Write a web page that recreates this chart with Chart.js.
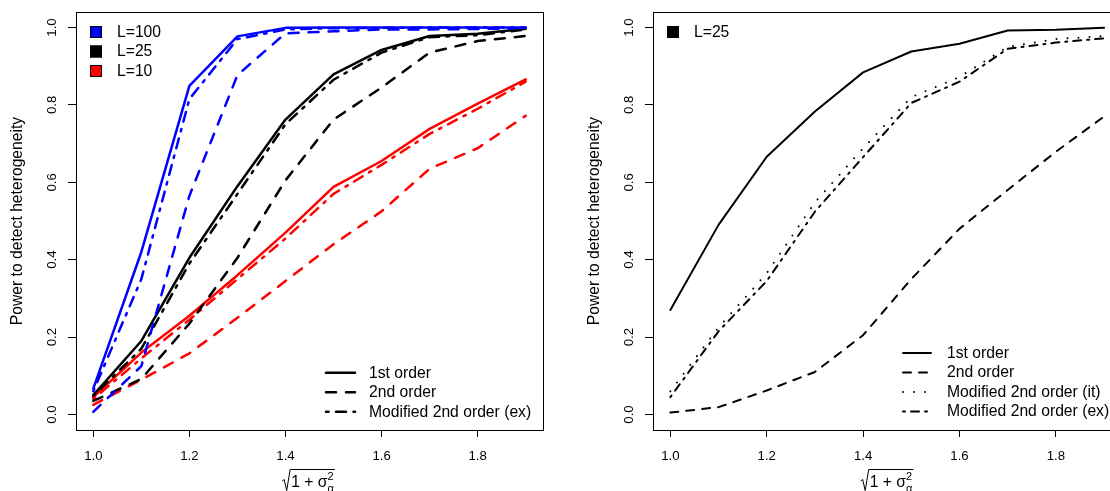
<!DOCTYPE html>
<html><head><meta charset="utf-8">
<script src="https://cdn.jsdelivr.net/npm/chart.js@4.4.0/dist/chart.umd.min.js"></script>
<style>
html,body{margin:0;padding:0;overflow:hidden;background:#fff;width:1110px;height:491px;}
#wrap{position:relative;width:1110px;height:491px;overflow:hidden;}
canvas{position:absolute;top:0;}
#c1{left:0;} #c2{left:555px;}
</style></head><body>
<div id="wrap"><canvas id="c1" width="555" height="491"></canvas><canvas id="c2" width="580" height="491"></canvas></div>
<script>
// ---------- data ----------
const xValues = [1.0, 1.1, 1.2, 1.3, 1.4, 1.5, 1.6, 1.7, 1.8, 1.9];
const xTicks = [1.0, 1.2, 1.4, 1.6, 1.8];
const yTicks = [0.0, 0.2, 0.4, 0.6, 0.8, 1.0];

// Left panel: L = 100, 25, 10
const L100_first  = [0.067, 0.42, 0.849, 0.977, 0.999, 1.0, 1.0, 1.0, 1.0, 1.0];
const L100_second = [0.007, 0.125, 0.565, 0.877, 0.985, 0.99, 0.995, 0.995, 0.996, 0.998];
const L100_modex  = [0.06, 0.35, 0.815, 0.97, 0.995, 0.998, 0.999, 1.0, 1.0, 1.0];
const L25_first   = [0.05, 0.19, 0.405, 0.59, 0.762, 0.879, 0.942, 0.978, 0.984, 0.997];
const L25_second  = [0.035, 0.092, 0.235, 0.405, 0.605, 0.762, 0.845, 0.935, 0.965, 0.978];
const L25_modex   = [0.048, 0.17, 0.39, 0.57, 0.75, 0.865, 0.935, 0.975, 0.98, 0.995];
const L10_first   = [0.045, 0.16, 0.255, 0.36, 0.47, 0.588, 0.655, 0.738, 0.803, 0.866];
const L10_second  = [0.025, 0.09, 0.158, 0.25, 0.345, 0.44, 0.525, 0.635, 0.688, 0.772];
const L10_modex   = [0.04, 0.145, 0.245, 0.35, 0.455, 0.57, 0.645, 0.725, 0.79, 0.86];

// Right panel: L = 25
const R_first  = [0.27, 0.49, 0.666, 0.783, 0.884, 0.938, 0.958, 0.992, 0.994, 0.999];
const R_second = [0.005, 0.019, 0.062, 0.11, 0.205, 0.35, 0.48, 0.58, 0.679, 0.77];
const R_modit  = [0.06, 0.225, 0.365, 0.548, 0.688, 0.82, 0.872, 0.95, 0.97, 0.978];
const R_modex  = [0.045, 0.215, 0.345, 0.524, 0.665, 0.805, 0.86, 0.945, 0.961, 0.972];

const leftGroups = ['L=100', 'L=25', 'L=10'];
const leftLegendLines = ['1st order', '2nd order', 'Modified 2nd order (ex)'];
const rightGroups = ['L=25'];
const rightLegendLines = ['1st order', '2nd order', 'Modified 2nd order (it)', 'Modified 2nd order (ex)'];
const yTitle = 'Power to detect heterogeneity';

// ---------- styling ----------
const FONT = '"Liberation Sans", Arial, Helvetica, sans-serif';
const BLUE = '#0000FF', BLACK = '#000000', RED = '#FF0000';
function dashes(lw) {
  return {
    solid: [],
    dashed: [4 * lw, 4 * lw],
    dotted: [0.01, 5.5 * lw],
    dotdash: [1 * lw, 3 * lw, 4 * lw, 3 * lw]
  };
}
function ds(vals, color, style, lw) {
  return {
    data: xValues.map((x, i) => ({x: x, y: vals[i]})),
    borderColor: color, backgroundColor: color,
    borderWidth: lw, borderDash: dashes(lw)[style], borderCapStyle: 'round', borderJoinStyle: 'round',
    pointRadius: 0, tension: 0, fill: false
  };
}

const rPlugin = {
  id: 'rstyle',
  afterDraw(chart, args, o) {
    const ctx = chart.ctx, a = chart.chartArea, ys = chart.scales.y;
    ctx.save();
    // box
    ctx.strokeStyle = '#000'; ctx.lineWidth = 1; ctx.setLineDash([]);
    ctx.strokeRect(Math.round(a.left) + 0.5, Math.round(a.top) + 0.5, Math.round(a.right - a.left), Math.round(a.bottom - a.top));
    // y tick labels (rotated, R style)
    ctx.fillStyle = '#000';
    ctx.font = '13.2px ' + FONT; ctx.textAlign = 'center'; ctx.textBaseline = 'middle';
    yTicks.forEach(v => {
      const py = ys.getPixelForValue(v);
      ctx.save(); ctx.translate(a.left - 24, py); ctx.rotate(-Math.PI / 2);
      ctx.fillText(v.toFixed(1), 0, 0); ctx.restore();
    });
    // y title
    ctx.font = '15.7px ' + FONT;
    ctx.save(); ctx.translate(a.left - 58, (a.top + a.bottom) / 2); ctx.rotate(-Math.PI / 2);
    ctx.fillText(yTitle, 0, 0); ctx.restore();
    // x title: sqrt(1 + sigma_alpha^2)
    {
      const baseY = a.bottom + 57;
      ctx.font = '15.7px ' + FONT;
      const main = '1 + \u03C3';
      const wMain = ctx.measureText(main).width;
      ctx.font = '11px ' + FONT;
      const wS = Math.max(ctx.measureText('2').width, ctx.measureText('\u03B1').width);
      const radW = 8;
      const total = radW + 1 + wMain + wS + 1;
      const x0 = a.left + o.titleOffset - total / 2;
      ctx.beginPath(); ctx.lineWidth = 1; ctx.strokeStyle = '#000';
      ctx.moveTo(x0, baseY - 6); ctx.lineTo(x0 + 2, baseY - 7.5); ctx.lineTo(x0 + 4.5, baseY + 3.5);
      ctx.lineTo(x0 + radW, baseY - 17.5); ctx.lineTo(x0 + total, baseY - 17.5); ctx.stroke();
      ctx.textAlign = 'left'; ctx.textBaseline = 'alphabetic';
      ctx.font = '15.7px ' + FONT; ctx.fillText(main, x0 + radW + 1, baseY);
      ctx.font = '11px ' + FONT;
      ctx.fillText('2', x0 + radW + 1 + wMain, baseY - 7.5);
      ctx.fillText('\u03B1', x0 + radW + 1 + wMain, baseY + 5);
    }
    // group legend (filled squares)
    ctx.font = '15.7px ' + FONT; ctx.textAlign = 'left'; ctx.textBaseline = 'middle';
    o.groups.forEach((g, i) => {
      const cy = a.top + 20 + i * 19.5;
      ctx.fillStyle = g.color;
      ctx.fillRect(a.left + 14, cy - 6, 12, 12);
      ctx.strokeStyle = '#000'; ctx.lineWidth = 1;
      ctx.strokeRect(a.left + 14.5, cy - 5.5, 11, 11);
      ctx.fillStyle = '#000';
      ctx.fillText(g.label, a.left + 41, cy + 0.5);
    });
    // line-type legend
    const n = o.lines.length;
    o.lines.forEach((l, i) => {
      const cy = o.legBottom - (n - 1 - i) * 19.5;
      ctx.save();
      ctx.strokeStyle = '#000'; ctx.lineWidth = o.lw; ctx.lineCap = 'round';
      ctx.setLineDash(dashes(o.lw)[l.style]);
      ctx.beginPath(); ctx.moveTo(o.lineX0, cy); ctx.lineTo(o.lineX1, cy); ctx.stroke();
      ctx.restore();
      ctx.fillStyle = '#000';
      ctx.fillText(l.label, o.textX, cy + 0.5);
    });
    ctx.restore();
  }
};

function makeChart(id, datasets, yAxisW, padRight, pluginOpts) {
  return new Chart(document.getElementById(id), {
    type: 'line',
    data: {datasets: datasets},
    plugins: [rPlugin],
    options: {
      responsive: false, animation: false, devicePixelRatio: 1,
      layout: {padding: {left: 0, top: 12, right: padRight, bottom: 0}},
      plugins: {legend: {display: false}, tooltip: {enabled: false}, rstyle: pluginOpts},
      scales: {
        x: {
          type: 'linear', min: 0.964, max: 1.936,
          afterBuildTicks: s => { s.ticks = xTicks.map(v => ({value: v})); },
          afterFit: s => { s.height = 61; },
          ticks: {callback: v => Number(v).toFixed(1), font: {family: FONT, size: 13.2}, color: '#000', padding: 11, maxRotation: 0, autoSkip: false},
          grid: {drawOnChartArea: false, drawTicks: true, tickLength: 7, color: '#000', lineWidth: 1},
          border: {display: false}
        },
        y: {
          type: 'linear', min: -0.04, max: 1.04,
          afterBuildTicks: s => { s.ticks = yTicks.map(v => ({value: v})); },
          afterFit: s => { s.width = yAxisW; },
          ticks: {display: false},
          grid: {drawOnChartArea: false, drawTicks: true, tickLength: 8, color: '#000', lineWidth: 1},
          border: {display: false}
        }
      }
    }
  });
}

const LW = 2.5;
makeChart('c1', [
  ds(L100_first, BLUE, 'solid', LW), ds(L100_second, BLUE, 'dashed', LW), ds(L100_modex, BLUE, 'dotdash', LW),
  ds(L25_first, BLACK, 'solid', LW), ds(L25_second, BLACK, 'dashed', LW), ds(L25_modex, BLACK, 'dotdash', LW),
  ds(L10_first, RED, 'solid', LW), ds(L10_second, RED, 'dashed', LW), ds(L10_modex, RED, 'dotdash', LW)
], 76, 12, {
  titleOffset: 232.5,
  groups: [{label: leftGroups[0], color: BLUE}, {label: leftGroups[1], color: BLACK}, {label: leftGroups[2], color: RED}],
  lines: [{label: leftLegendLines[0], style: 'solid'}, {label: leftLegendLines[1], style: 'dashed'}, {label: leftLegendLines[2], style: 'dotdash'}],
  lw: LW, legBottom: 411.7, lineX0: 326, lineX1: 355, textX: 369
});

const RW = 2;
makeChart('c2', [
  ds(R_first, BLACK, 'solid', RW), ds(R_second, BLACK, 'dashed', RW),
  ds(R_modit, BLACK, 'dotted', RW), ds(R_modex, BLACK, 'dotdash', RW)
], 98, 13.6, {
  titleOffset: 234,
  groups: [{label: rightGroups[0], color: BLACK}],
  lines: [{label: rightLegendLines[0], style: 'solid'}, {label: rightLegendLines[1], style: 'dashed'},
          {label: rightLegendLines[2], style: 'dotted'}, {label: rightLegendLines[3], style: 'dotdash'}],
  lw: RW, legBottom: 411.5, lineX0: 903 - 555, lineX1: 931 - 555, textX: 947 - 555
});
</script>
</body></html>
